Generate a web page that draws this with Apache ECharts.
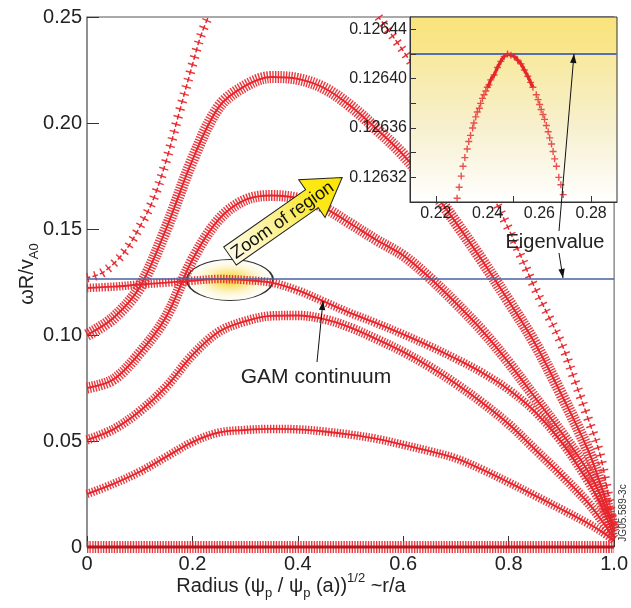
<!DOCTYPE html>
<html>
<head>
<meta charset="utf-8">
<script src="https://cdn.jsdelivr.net/npm/echarts@6/dist/echarts.min.js"></script>
<style>
  html, body { margin: 0; padding: 0; background: #fff; }
  #main { width: 631px; height: 608px; }
</style>
</head>
<body>
<div id="main"></div>
<script>
// ---------------- data ----------------
// shared radius grid for the continuum branches
const radius = [0, 0.05, 0.1, 0.15, 0.2, 0.25, 0.3, 0.35, 0.4, 0.45, 0.5, 0.55, 0.6, 0.65, 0.7, 0.75, 0.8, 0.85, 0.9, 0.95, 0.975, 1.0];
const branch1 = [0.025, 0.0298, 0.0355, 0.0425, 0.0495, 0.054, 0.0552, 0.0557, 0.0555, 0.0545, 0.053, 0.051, 0.0482, 0.0452, 0.0418, 0.0365, 0.0305, 0.0242, 0.0178, 0.0112, 0.0075, 0.003];
const branch2 = [0.0505, 0.0555, 0.064, 0.0755, 0.0905, 0.1015, 0.1065, 0.109, 0.1092, 0.1075, 0.1035, 0.098, 0.092, 0.085, 0.077, 0.068, 0.058, 0.046, 0.034, 0.021, 0.013, 0.004];
const gamBranch = [0.1222, 0.1228, 0.1238, 0.1247, 0.1256, 0.1264, 0.1259, 0.1247, 0.121, 0.1157, 0.1103, 0.1055, 0.1003, 0.0948, 0.0888, 0.0822, 0.0742, 0.0638, 0.0495, 0.031, 0.02, 0.005];
const branch3 = [0.075, 0.079, 0.0915, 0.1085, 0.1355, 0.1545, 0.1637, 0.1658, 0.1645, 0.16, 0.1525, 0.1447, 0.1375, 0.127, 0.115, 0.102, 0.087, 0.0705, 0.054, 0.036, 0.024, 0.007];
const branch4 = [0.100, 0.108, 0.1225, 0.150, 0.1825, 0.2075, 0.2175, 0.2217, 0.2208, 0.2165, 0.208, 0.197, 0.185, 0.170, 0.153, 0.135, 0.116, 0.096, 0.072, 0.046, 0.029, 0.008];
// fifth branch leaves the frame at the top
const branch5UpR = [0, 0.025, 0.05, 0.075, 0.1, 0.125, 0.15, 0.175, 0.2, 0.215, 0.23];
const branch5UpW = [0.127, 0.1288, 0.1335, 0.1405, 0.151, 0.1635, 0.182, 0.205, 0.2275, 0.2405, 0.25];
const branch5DownR = [0.553, 0.6, 0.65, 0.7, 0.75, 0.8, 0.85, 0.9, 0.925, 0.95, 0.975, 1.0];
const branch5DownW = [0.25, 0.234, 0.215, 0.195, 0.175, 0.150, 0.122, 0.096, 0.0788, 0.061, 0.042, 0.008];
const zeroR = [0, 1];
const zeroW = [0, 0];
const eigenvalue = 0.12642;

// inset (zoom of region)
const insetR = [0.2282, 0.2290, 0.2298, 0.2305, 0.2312, 0.2321, 0.2327, 0.2334, 0.2342, 0.2347, 0.2354, 0.2360, 0.2368, 0.2373, 0.2380, 0.2386, 0.2393, 0.2399, 0.2405, 0.2412, 0.2425, 0.2438, 0.2451, 0.2464, 0.2477, 0.2490, 0.2503, 0.2516, 0.2529, 0.2542, 0.2555, 0.2566, 0.2575, 0.2588, 0.2595, 0.2601, 0.2607, 0.2614, 0.2620, 0.2627, 0.2634, 0.2640, 0.2647, 0.2653, 0.2659, 0.2666, 0.2675, 0.2683, 0.2692];
const insetW = [0.126303, 0.126312, 0.126321, 0.126329, 0.126336, 0.126343, 0.126349, 0.126354, 0.126360, 0.126364, 0.126369, 0.126373, 0.126376, 0.126380, 0.126384, 0.126387, 0.126390, 0.126393, 0.126395, 0.126399, 0.126403, 0.126409, 0.126414, 0.126418, 0.126420, 0.126419, 0.126418, 0.126415, 0.126412, 0.126407, 0.126402, 0.126397, 0.126393, 0.126387, 0.126383, 0.126379, 0.126375, 0.126371, 0.126367, 0.126362, 0.126357, 0.126352, 0.126347, 0.126341, 0.126335, 0.126329, 0.126320, 0.126314, 0.126306];

const insetXLabels = [0.22, 0.24, 0.26, 0.28];
const insetXTicks = [0.22, 0.25, 0.28];
const insetYLabels = [0.12632, 0.12636, 0.12640, 0.12644];
const insetYTicks = [0.12632, 0.12634, 0.12636, 0.12638, 0.12640, 0.12642, 0.12644];

// ---------------- helpers ----------------
const RED = '#e6262c';
const FONT = 'Liberation Sans, Arial, sans-serif';
const PLUS = 'path://M4 0H6V4H10V6H6V10H4V6H0V4H4Z';

// a branch of "+" markers: perpendicular dash stripes + a core line
function band(xs, ys, o) {
    const data = xs.map((x, i) => [x, ys[i]]);
    const base = {
        type: 'line', data: data, smooth: 0.35, symbol: 'none',
        silent: true, animation: false, clip: o.clip !== false, z: 2
    };
    return [
        Object.assign({}, base, {
            lineStyle: { color: RED, width: o.w, type: [o.dash || 1.4, o.gap], opacity: 0.9 }
        }),
        Object.assign({}, base, {
            lineStyle: {
                color: o.core || RED, width: o.cw || 1.9,
                type: o.coreDash || 'solid', dashOffset: o.coreOffset || 0
            }
        })
    ];
}

function head(x1, y1, x2, y2) {
    const len = 9, w = 3.2;
    const d = Math.hypot(x2 - x1, y2 - y1);
    const ux = (x2 - x1) / d, uy = (y2 - y1) / d;
    return {
        type: 'polygon', z: 10,
        shape: { points: [[x2, y2], [x2 - ux * len - uy * w, y2 - uy * len + ux * w], [x2 - ux * len + uy * w, y2 - uy * len - ux * w]] },
        style: { fill: '#111' }
    };
}
function pointer(x1, y1, x2, y2) {
    return [
        { type: 'polyline', z: 10, shape: { points: [[x1, y1], [x2, y2]] }, style: { stroke: '#111', lineWidth: 1, fill: null } },
        head(x1, y1, x2, y2)
    ];
}

const sparse = { w: 9.5, dash: 1.5, gap: 6.2, cw: 1.5, coreDash: [5.5, 2.2], coreOffset: 2 };

let series = [].concat(
    band(zeroR, zeroW, { w: 12, gap: 1.3, core: '#b3161b', cw: 2.8, clip: false }),
    band(radius, branch1, { w: 8.5, gap: 1.5 }),
    band(radius, branch2, { w: 9.5, gap: 1.4 }),
    band(radius, gamBranch, { w: 8.5, gap: 1.5 }),
    band(radius, branch3, { w: 11, gap: 1.3 }),
    band(radius, branch4, { w: 12, gap: 1.3 }),
    band(branch5UpR, branch5UpW, sparse),
    band(branch5DownR, branch5DownW, sparse)
);
series.push({
    type: 'line', data: [[0, eigenvalue], [1, eigenvalue]], symbol: 'none', silent: true,
    animation: false, z: 2, lineStyle: { color: '#4862a3', width: 1.5 }
});

// inset series
const insetPts = insetR.map((x, i) => [x, insetW[i]]);
series.push({
    type: 'scatter', xAxisIndex: 1, yAxisIndex: 1, data: insetPts, symbol: PLUS, symbolSize: 7,
    itemStyle: { color: RED }, z: 5, animation: false, silent: true
});
series.push({
    type: 'line', xAxisIndex: 1, yAxisIndex: 1, smooth: true, symbol: 'none', z: 5, animation: false, silent: true,
    data: insetPts.filter(p => p[0] >= 0.2399 && p[0] <= 0.2575),
    lineStyle: { color: RED, width: 3.2 }
});
series.push({
    type: 'line', xAxisIndex: 1, yAxisIndex: 1, symbol: 'none', z: 5, animation: false, silent: true,
    data: [[0.21, eigenvalue], [0.29, eigenvalue]],
    lineStyle: { color: '#5a70a8', width: 2 }
});

const chart = echarts.init(document.getElementById('main'));
chart.setOption({
    animation: false,
    backgroundColor: '#fff',
    grid: [
        { left: 87, top: 17, right: 14, bottom: 61, show: true, borderColor: '#555', borderWidth: 1, backgroundColor: 'transparent' },
        { left: 410, top: 17, width: 207, height: 185 }
    ],
    xAxis: [
        {
            type: 'value', gridIndex: 0, min: 0, max: 1, interval: 0.2,
            axisLine: { show: false },
            axisTick: { inside: true, length: 11, lineStyle: { color: '#333' } },
            axisLabel: {
                fontSize: 20, fontFamily: FONT, color: '#222', margin: 7,
                showMinLabel: true, showMaxLabel: true,
                formatter: v => (v === 0 ? '0' : v.toFixed(1))
            },
            splitLine: { show: false }
        },
        {
            type: 'value', gridIndex: 1, min: 0.21, max: 0.29, z: 6,
            axisLine: { show: true, lineStyle: { color: '#333' } },
            axisTick: { inside: true, length: 6, customValues: insetXTicks, lineStyle: { color: '#333' } },
            axisLabel: {
                customValues: insetXLabels, fontSize: 16, fontFamily: FONT, color: '#222', margin: 4,
                formatter: v => v.toFixed(2)
            },
            splitLine: { show: false }
        }
    ],
    yAxis: [
        {
            type: 'value', gridIndex: 0, min: 0, max: 0.25, interval: 0.05,
            axisLine: { show: true, lineStyle: { color: '#888', width: 1.5 } },
            axisTick: { inside: true, length: 12, lineStyle: { color: '#333' } },
            axisLabel: {
                fontSize: 20, fontFamily: FONT, color: '#222', margin: 5,
                showMinLabel: true, showMaxLabel: true,
                formatter: v => (v === 0 ? '0' : v.toFixed(2))
            },
            splitLine: { show: false }
        },
        {
            type: 'value', gridIndex: 1, min: 0.1263, max: 0.12645, z: 6,
            axisLine: { show: true, lineStyle: { color: '#333' } },
            axisTick: { inside: true, length: 6, customValues: insetYTicks, lineStyle: { color: '#333' } },
            axisLabel: {
                customValues: insetYLabels, fontSize: 16, fontFamily: FONT, color: '#222', margin: 3,
                formatter: v => v.toFixed(5)
            },
            splitLine: { show: false }
        }
    ],
    graphic: [].concat([
        // inset background
        {
            type: 'rect', z: 3, silent: true,
            shape: { x: 410, y: 17, width: 207, height: 185 },
            style: {
                fill: {
                    type: 'linear', x: 0, y: 0, x2: 0, y2: 1,
                    colorStops: [
                        { offset: 0, color: '#f9e37c' },
                        { offset: 0.185, color: '#f9e68c' },
                        { offset: 0.19, color: '#f8e99c' },
                        { offset: 0.6, color: '#f7f0cf' },
                        { offset: 1, color: '#ffffff' }
                    ]
                },
                stroke: '#333', lineWidth: 1
            }
        },
        // highlighted region
        {
            type: 'circle', x: 230, y: 280, scaleX: 2.1, z: 1, silent: true,
            shape: { cx: 0, cy: 0, r: 20.5 },
            style: {
                fill: {
                    type: 'radial', x: 0.5, y: 0.5, r: 0.5,
                    colorStops: [
                        { offset: 0, color: 'rgba(246,196,30,0.95)' },
                        { offset: 0.35, color: 'rgba(248,222,90,0.75)' },
                        { offset: 0.75, color: 'rgba(250,244,200,0.45)' },
                        { offset: 1, color: 'rgba(252,252,240,0.3)' }
                    ]
                },
                stroke: '#333', lineWidth: 1, strokeNoScale: true
            }
        },
        // "Zoom of region" arrow
        {
            type: 'group', x: 230, y: 256, rotation: 35 * Math.PI / 180, z: 10,
            children: [
                {
                    type: 'polygon', z: 10,
                    shape: { points: [[0, -11], [100, -11], [100, -23], [137, 0], [100, 23], [100, 11], [0, 11]] },
                    style: {
                        fill: {
                            type: 'linear', x: 0, y: 0, x2: 1, y2: 0,
                            colorStops: [
                                { offset: 0, color: '#fffbe6' },
                                { offset: 0.45, color: '#fbf08a' },
                                { offset: 0.75, color: '#fde818' },
                                { offset: 1, color: '#fce600' }
                            ]
                        },
                        stroke: '#222', lineWidth: 1
                    }
                },
                {
                    type: 'text', x: 3, y: 1, z: 11,
                    style: { text: 'Zoom of region', fontSize: 18, fontFamily: FONT, fill: '#111', align: 'left', verticalAlign: 'middle' }
                }
            ]
        },
        {
            type: 'text', x: 316, y: 377, z: 10,
            style: { text: 'GAM continuum', fontSize: 21, fontFamily: FONT, fill: '#222', align: 'center', verticalAlign: 'middle' }
        },
        {
            type: 'text', x: 555, y: 242, z: 10,
            style: { text: 'Eigenvalue', fontSize: 20, fontFamily: FONT, fill: '#222', align: 'center', verticalAlign: 'middle' }
        },
        {
            type: 'text', x: 623, y: 513, rotation: Math.PI / 2, z: 10,
            style: { text: 'JG05.589-3c', fontSize: 10, fontFamily: FONT, fill: '#333', align: 'center', verticalAlign: 'middle' }
        },
        {
            type: 'text', x: 27, y: 274, rotation: Math.PI / 2, z: 10,
            style: {
                text: '{m|ωR/v}{s|A0}', align: 'center', verticalAlign: 'middle',
                rich: {
                    m: { fontSize: 20, fontFamily: FONT, fill: '#222', lineHeight: 28, verticalAlign: 'middle' },
                    s: { fontSize: 13, fontFamily: FONT, fill: '#222', lineHeight: 14, verticalAlign: 'bottom' }
                }
            }
        },
        {
            type: 'text', x: 291, y: 586, z: 10,
            style: {
                text: '{m|Radius (ψ}{s|p}{m| / ψ}{s|p}{m| (a))}{u|1/2}{m| ~r/a}', align: 'center', verticalAlign: 'middle',
                rich: {
                    m: { fontSize: 20, fontFamily: FONT, fill: '#222', lineHeight: 28, verticalAlign: 'middle' },
                    s: { fontSize: 13, fontFamily: FONT, fill: '#222', lineHeight: 14, verticalAlign: 'bottom' },
                    u: { fontSize: 13, fontFamily: FONT, fill: '#222', lineHeight: 14, verticalAlign: 'top' }
                }
            }
        }
    ],
        pointer(317, 362, 323, 301),
        pointer(559, 231, 574, 54),
        pointer(559, 253, 563, 278)
    ),
    series: series
});
</script>
</body>
</html>
